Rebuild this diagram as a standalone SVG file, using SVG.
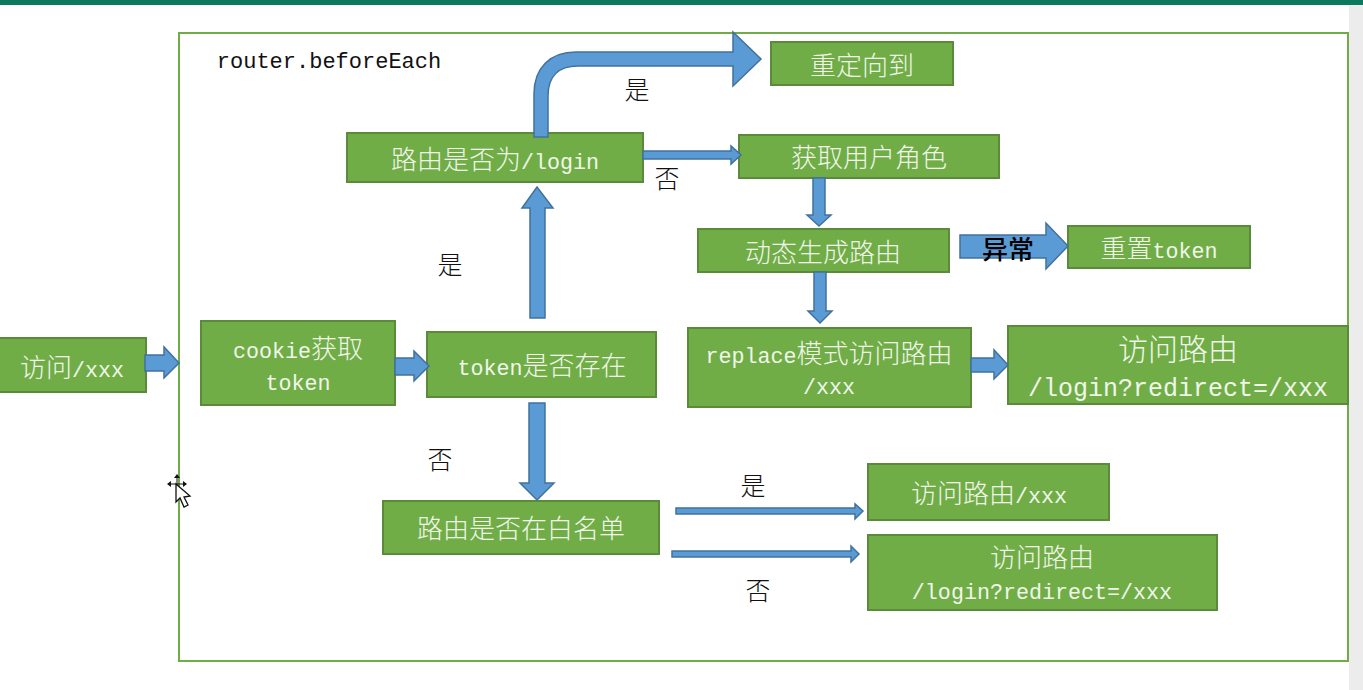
<svg xmlns="http://www.w3.org/2000/svg" width="1363" height="690" viewBox="0 0 1363 690">
<style>
.n{fill:#70ad47;stroke:#5a8a3a;stroke-width:2}
.a{fill:#5b9bd5;stroke:#41719c;stroke-width:1.5}
text{text-anchor:middle;font-family:"Liberation Mono","Noto Sans CJK SC",monospace}
.w{fill:#f0f6ea;font-size:21.7px}
.w tspan{font-family:"Noto Sans CJK SC","Liberation Mono",sans-serif;font-size:26px;font-weight:300}
.b{fill:#111;font-family:"Noto Sans CJK SC",sans-serif;font-size:25px;font-weight:300}
.l{fill:#f0f6ea;font-size:25px}
.l tspan{font-family:"Noto Sans CJK SC","Liberation Mono",sans-serif;font-size:30px;font-weight:300}
</style>
<rect width="1363" height="690" fill="#fff"/>
<rect x="1349" y="5" width="14" height="685" fill="#ececec"/>
<rect width="1363" height="5" fill="#0d7a5f"/>
<rect id="frame" x="179" y="33" width="1169" height="628" fill="none" stroke="#70ad47" stroke-width="2"/>
<text x="329" y="68" style="font-size:22px;fill:#111">router.beforeEach</text>
<g id="n1"><rect class="n" x="-2" y="338" width="148" height="54"/><text class="w" x="72" y="377"><tspan>访问</tspan>/xxx</text></g>
<g id="n2"><rect class="n" x="201" y="321" width="194" height="84"/><text class="w" x="298" y="358">cookie<tspan>获取</tspan></text><text class="w" x="298" y="390">token</text></g>
<g id="n3"><rect class="n" x="427" y="332" width="229" height="65"/><text class="w" x="542" y="375">token<tspan>是否存在</tspan></text></g>
<g id="n4"><rect class="n" x="347" y="133" width="296" height="49"/><text class="w" x="495" y="169"><tspan>路由是否为</tspan>/login</text></g>
<g id="n5"><rect class="n" x="771" y="42" width="182" height="43"/><text class="w" x="862" y="75"><tspan>重定向到</tspan></text></g>
<g id="n6"><rect class="n" x="739" y="135" width="260" height="43"/><text class="w" x="869" y="167"><tspan>获取用户角色</tspan></text></g>
<g id="n7"><rect class="n" x="698" y="229" width="251" height="43"/><text class="w" x="823" y="262"><tspan>动态生成路由</tspan></text></g>
<g id="n8"><rect class="n" x="1068" y="226" width="182" height="42"/><text class="w" x="1159" y="258"><tspan>重置</tspan>token</text></g>
<g id="n9"><rect class="n" x="688" y="328" width="283" height="79"/><text class="w" x="829" y="363">replace<tspan>模式访问路由</tspan></text><text class="w" x="829" y="394">/xxx</text></g>
<g id="n10"><rect class="n" x="1008" y="326" width="340" height="78"/><text class="l" x="1178" y="360"><tspan>访问路由</tspan></text><text class="l" x="1178" y="396">/login?redirect=/xxx</text></g>
<g id="n11"><rect class="n" x="383" y="501" width="276" height="53"/><text class="w" x="521" y="538"><tspan>路由是否在白名单</tspan></text></g>
<g id="n12"><rect class="n" x="868" y="464" width="241" height="56"/><text class="w" x="989" y="503"><tspan>访问路由</tspan>/xxx</text></g>
<g id="n13"><rect class="n" x="868" y="535" width="349" height="75"/><text class="w" x="1042" y="567"><tspan>访问路由</tspan></text><text class="w" x="1042" y="599">/login?redirect=/xxx</text></g>
<g id="connectors">
<path class="a" d="M145 355H164V347L179 363 164 378V371H145Z"/>
<path class="a" d="M395 358H414V351L429 366 414 381V375H395Z"/>
<path class="a" d="M530 318V208H522L537 187 553 208H545V318Z"/>
<path class="a" d="M529 403V483H520L537 500 554 483H545V403Z"/>
<path class="a" d="M534 137V94C534 68 550 52 576 52H733V32L761 59 733 86V66H578C559 66 548 76 548 96V137Z"/>
<path class="a" d="M643 151H731V146L741 155 731 164V159H643Z"/>
<path class="a" d="M813 178V215H807L819 226 831 215H825V178Z"/>
<path class="a" d="M814 272V311H808L820 323 832 311H826V272Z"/>
<path class="a" d="M960 235H1046V223L1068 246 1046 269V258H960Z"/>
<path class="a" d="M971 358H994V350L1008 365 994 379V372H971Z"/>
<path class="a" d="M676 508H855V504L863 511 855 519V514H676Z"/>
<path class="a" d="M672 551H851V546L859 554 851 562V557H672Z"/>
</g>
<text class="b" x="637" y="99">是</text>
<text class="b" x="667" y="188">否</text>
<text class="b" x="450" y="274">是</text>
<text class="b" x="440" y="469">否</text>
<text class="b" x="753" y="495">是</text>
<text class="b" x="758" y="600">否</text>
<text class="b" x="1008" y="259" style="font-size:26px;font-weight:500;fill:#000">异常</text>
<g id="cursor">
<path d="M169 484H186M177 476V492" fill="none" stroke="#111" stroke-width="1"/>
<path d="M167 484L171 481V487ZM187 484L183 481V487ZM177 474L174 478H180Z" fill="#111"/>
<path d="M176 484V502L180 498 184 507 188 505 184 497 190 496Z" fill="#fff" stroke="#111" stroke-width="1.3"/>
</g>
</svg>
